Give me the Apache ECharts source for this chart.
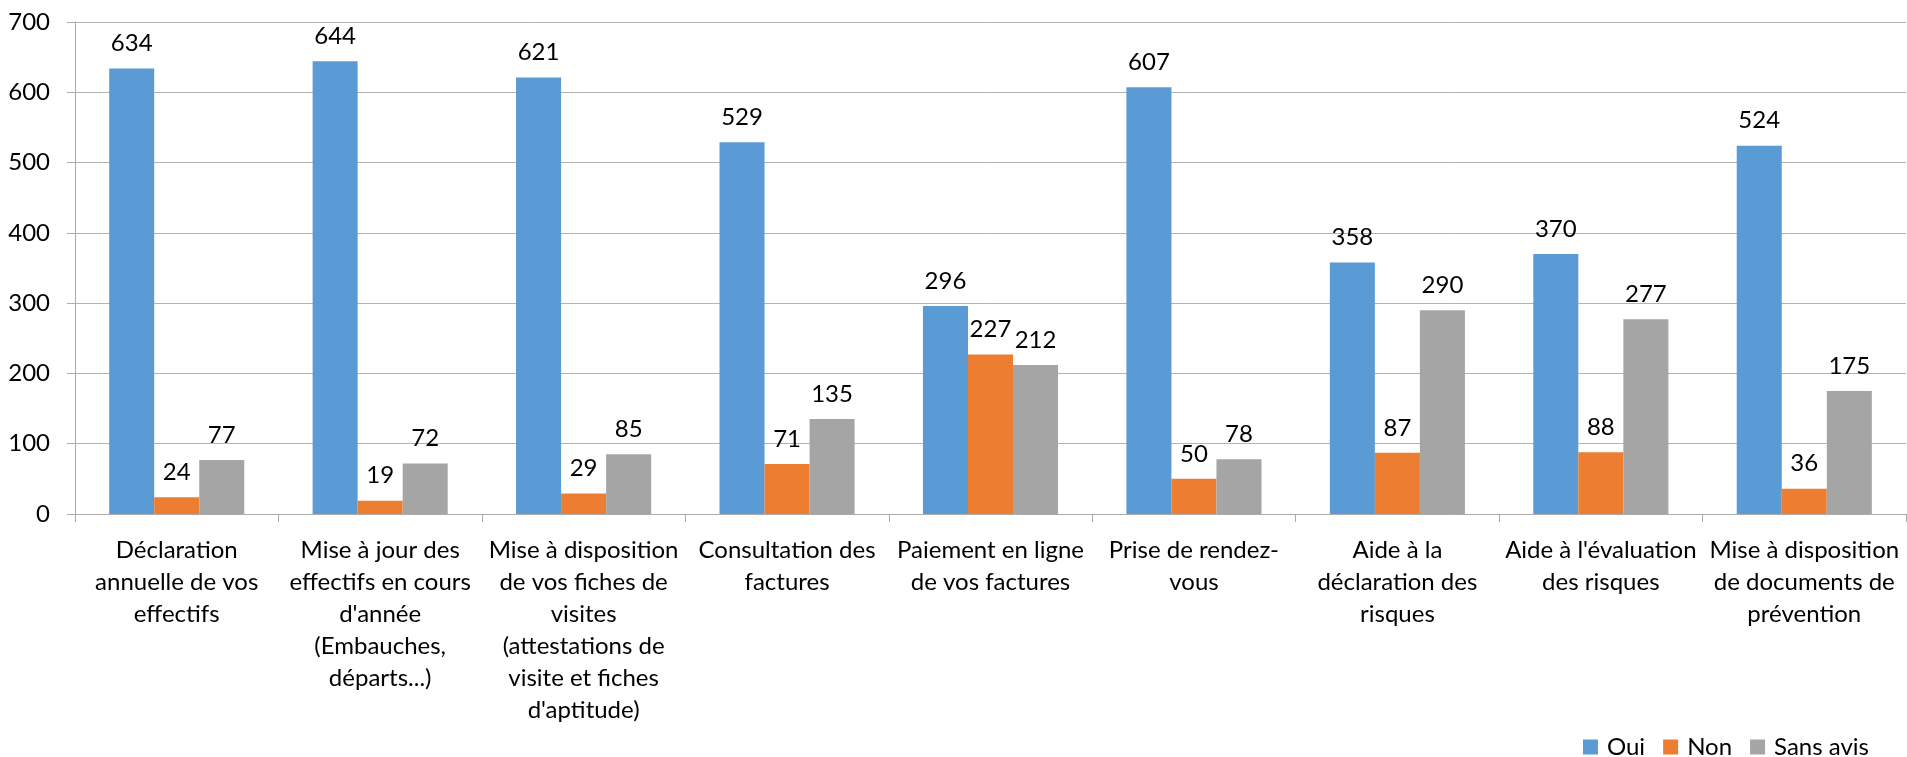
<!DOCTYPE html>
<html>
<head>
<meta charset="utf-8">
<script src="https://cdn.jsdelivr.net/npm/echarts@6/dist/echarts.min.js"></script>
<style>
html,body{margin:0;padding:0;background:#fff;}
#chart{width:1907px;height:757px;}
</style>
</head>
<body>
<div id="chart"></div>
<script>
const categories = [
  "Déclaration\nannuelle de vos\neffectifs",
  "Mise à jour des\neffectifs en cours\nd'année\n(Embauches,\ndéparts...)",
  "Mise à disposition\nde vos fiches de\nvisites\n(attestations de\nvisite et fiches\nd'aptitude)",
  "Consultation des\nfactures",
  "Paiement en ligne\nde vos factures",
  "Prise de rendez-\nvous",
  "Aide à la\ndéclaration des\nrisques",
  "Aide à l'évaluation\ndes risques",
  "Mise à disposition\nde documents de\nprévention"
];
const seriesNames = ["Oui", "Non", "Sans avis"];
const oui = [634, 644, 621, 529, 296, 607, 358, 370, 524];
const non = [24, 19, 29, 71, 227, 50, 87, 88, 36];
const sansAvis = [77, 72, 85, 135, 212, 78, 290, 277, 175];
const yTicks = [0, 100, 200, 300, 400, 500, 600, 700];

const colors = ["#5B9BD5", "#ED7D31", "#A5A5A5"];
const FONT = "Lato";
const FS = 24;
const chart = echarts.init(document.getElementById('chart'), null, {renderer: 'canvas'});

function mkSeries(name, data, color) {
  return {
    name: name,
    type: 'bar',
    data: data,
    barGap: '0%',
    barCategoryGap: '33.6%',
    itemStyle: {color: color},
    label: {
      show: true,
      position: 'top',
      distance: 13,
      color: '#000',
      fontFamily: FONT,
      fontSize: FS
    }
  };
}

chart.setOption({
  backgroundColor: '#fff',
  animation: false,
  color: colors,
  grid: {left: 75, right: 1, top: 22, bottom: 243, containLabel: false},
  legend: {
    data: seriesNames,
    right: 38,
    top: 733,
    padding: 0,
    itemWidth: 15,
    itemHeight: 15,
    itemGap: 18,
    icon: 'rect',
    textStyle: {fontFamily: FONT, fontSize: FS, color: '#000', lineHeight: 28, padding: [0, 0, 0, 4]}
  },
  xAxis: {
    type: 'category',
    data: categories,
    axisLine: {show: true, lineStyle: {color: '#ababab', width: 1}},
    axisTick: {show: true, length: 8, lineStyle: {color: '#ababab'}},
    axisLabel: {
      interval: 0,
      margin: 20,
      color: '#000',
      fontFamily: FONT,
      fontSize: FS,
      lineHeight: 32,
      align: 'center'
    }
  },
  yAxis: {
    type: 'value',
    min: yTicks[0],
    max: yTicks[yTicks.length - 1],
    interval: yTicks[1] - yTicks[0],
    axisLine: {show: true, lineStyle: {color: '#ababab', width: 1}},
    axisTick: {show: true, length: 8, lineStyle: {color: '#ababab'}},
    splitLine: {show: true, lineStyle: {color: '#b3b3b3', width: 1}},
    axisLabel: {margin: 25, color: '#000', fontFamily: FONT, fontSize: FS}
  },
  series: [
    mkSeries(seriesNames[0], oui, colors[0]),
    mkSeries(seriesNames[1], non, colors[1]),
    mkSeries(seriesNames[2], sansAvis, colors[2])
  ]
});
</script>
</body>
</html>
